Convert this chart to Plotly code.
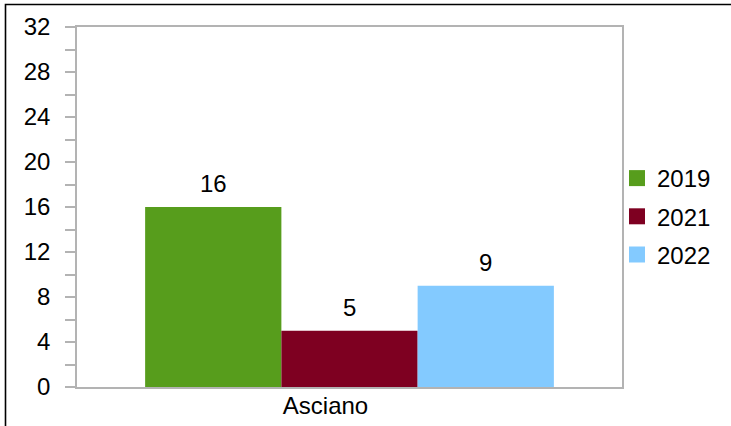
import plotly.graph_objects as go

# Data
categories = ["Asciano"]
series_names = ["2019", "2021", "2022"]
series_values = [[16], [5], [9]]
series_colors = ["#579d1c", "#7e0021", "#83caff"]
y_ticks = [0, 4, 8, 12, 16, 20, 24, 28, 32]

W, H = 731, 426
L, T, R, B = 77, 27, 109, 39
pw, ph = W - L - R, H - T - B

FONT = dict(family="Liberation Sans, Arial, sans-serif", size=24, color="#000000")

fig = go.Figure()
for name, vals, col in zip(series_names, series_values, series_colors):
    fig.add_trace(go.Bar(
        x=categories, y=vals, name=name, legendgroup=name, showlegend=False,
        marker=dict(color=col, line=dict(width=0)),
    ))
    # legend key: a plain square swatch per series
    fig.add_trace(go.Scatter(
        x=[None], y=[None], mode="markers", name=name, legendgroup=name,
        marker=dict(symbol="square", size=16, color=col, line=dict(width=0)),
    ))

# value labels above each bar (grouped bar centres on the category axis)
n = len(series_names)
bargap = 0.25
bw = (1 - bargap) / n
for i, vals in enumerate(series_values):
    for j, v in enumerate(vals):
        xc = j - (1 - bargap) / 2 + bw * (i + 0.5)
        fig.add_annotation(
            x=xc, y=v, xref="x", yref="y", text=str(v), showarrow=False,
            yanchor="bottom", yshift=8, font=FONT,
        )

def px_x(p):
    return (p - L) / pw

def px_y(p):
    return (H - B - p) / ph

# outer frame (left and top edges fall inside the page)
fig.add_shape(type="rect", xref="paper", yref="paper",
              x0=px_x(5.5), x1=px_x(740), y0=px_y(440), y1=px_y(4.5),
              line=dict(color="#000000", width=1.6), fillcolor="rgba(0,0,0,0)",
              layer="above")

fig.update_layout(
    width=W, height=H,
    margin=dict(l=L, r=R, t=T, b=B, pad=0, autoexpand=False),
    paper_bgcolor="#ffffff", plot_bgcolor="#ffffff",
    barmode="group", bargap=bargap, bargroupgap=0,
    font=FONT,
    showlegend=True,
    legend=dict(
        xref="container", yref="container",
        x=617 / W, y=1 - 156 / H, xanchor="left", yanchor="top",
        font=FONT, itemsizing="trace", tracegroupgap=4,
        bgcolor="rgba(0,0,0,0)", borderwidth=0,
    ),
    xaxis=dict(
        type="category", showgrid=False, showline=True, linecolor="#b3b3b3",
        linewidth=1.5, mirror=True, ticks="", tickfont=FONT,
        ticklabelstandoff=-4, ticklabelshift=-24, automargin=False,
    ),
    yaxis=dict(
        range=[0, 32], tickvals=y_ticks, showgrid=False, zeroline=False,
        showline=True, linecolor="#b3b3b3", linewidth=1.5, mirror=True,
        ticks="outside", ticklen=10, tickcolor="#b3b3b3", tickwidth=1.5,
        tickfont=FONT, ticklabelstandoff=10, automargin=False,
        minor=dict(dtick=2, ticks="outside", ticklen=10,
                   tickcolor="#b3b3b3", tickwidth=1.5, showgrid=False),
    ),
)

fig.write_html("out.html")
